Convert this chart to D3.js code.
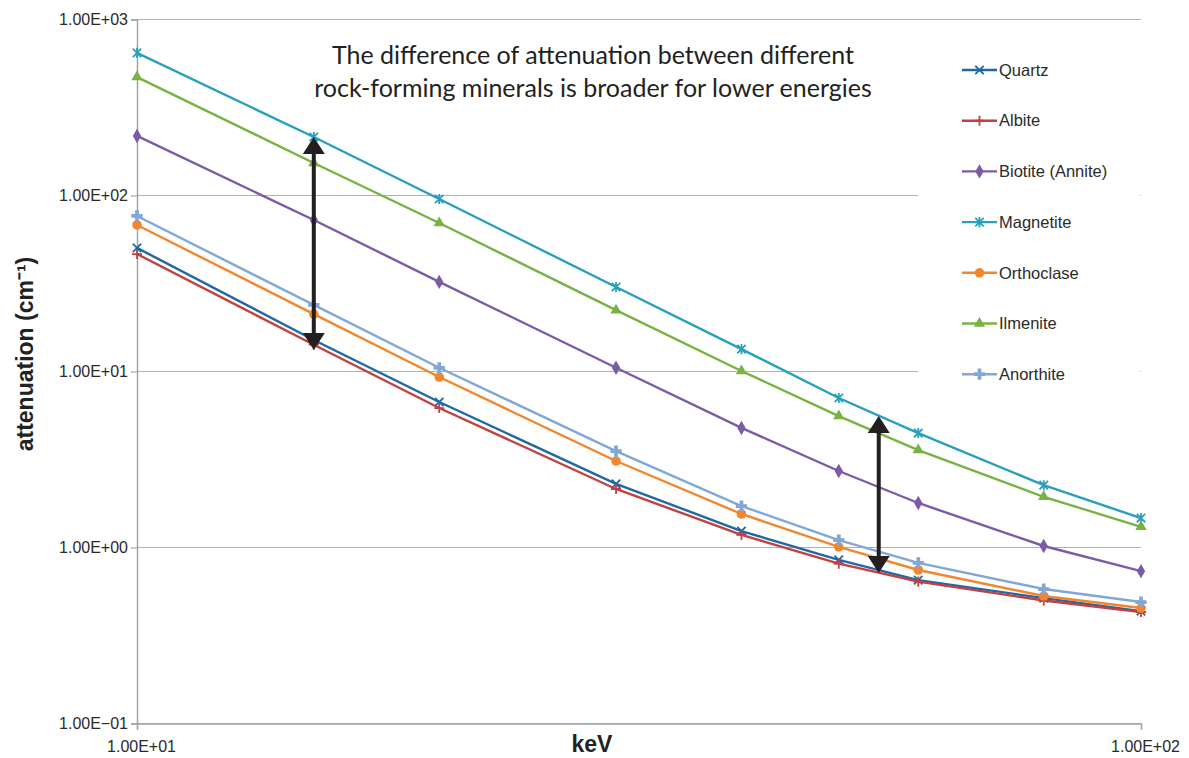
<!DOCTYPE html>
<html>
<head>
<meta charset="utf-8">
<script src="https://cdn.jsdelivr.net/npm/d3@7"></script>
<style>
  body { margin: 0; background: #fff; }
  svg { display: block; }
</style>
</head>
<body>
<div id="chart"></div>
<script>
// energies (keV) and attenuation values (cm-1)
const energies = [10, 15, 20, 30, 40, 50, 60, 80, 100];

const quartz     = [50.4, 15.1, 6.71, 2.30, 1.24, 0.85, 0.653, 0.516, 0.435];
const albite     = [46.5, 14.2, 6.2, 2.15, 1.18, 0.81, 0.64, 0.50, 0.43];
const biotite    = [218, 72.6, 32.3, 10.5, 4.78, 2.72, 1.79, 1.02, 0.734];
const magnetite  = [646, 215, 95.5, 30.2, 13.4, 7.07, 4.47, 2.26, 1.47];
const orthoclase = [68, 21.2, 9.3, 3.10, 1.55, 1.007, 0.745, 0.53, 0.453];
const ilmenite   = [471, 153, 69.8, 22.3, 10.07, 5.58, 3.58, 1.94, 1.31];
const anorthite  = [76.5, 23.9, 10.5, 3.53, 1.72, 1.10, 0.817, 0.581, 0.49];

const seriesNames = ["Quartz", "Albite", "Biotite (Annite)", "Magnetite", "Orthoclase", "Ilmenite", "Anorthite"];

const yTickValues = [0.1, 1, 10, 100, 1000];
const yTickLabels = ["1.00E\u221201", "1.00E+00", "1.00E+01", "1.00E+02", "1.00E+03"];
const xTickValues = [10, 100];
const xTickLabels = ["1.00E+01", "1.00E+02"];

// double arrows: energy, upper value, lower value
const arrowKeV   = [15, 54.8];
const arrowTop   = [215, 5.58];
const arrowBot   = [13.25, 0.716];

const noteLines = ["The difference of attenuation between different",
                   "rock-forming minerals is broader for lower energies"];

// set the dimensions and margins of the graph
let margin = {top: 19.5, right: 48, bottom: 34.5, left: 137},
    width = 1189 - margin.left - margin.right,
    height = 758 - margin.top - margin.bottom;

const svg = d3.select("#chart")
    .append("svg")
    .attr("width", 1189)
    .attr("height", 758);

const g = svg.append("g")
    .attr("transform", "translate(" + margin.left + "," + margin.top + ")");

const x = d3.scaleLog().domain([10, 100]).range([0, width]);
const y = d3.scaleLog().domain([0.1, 1000]).range([height, 0]);

const gridColor = "#aab4bd";

// horizontal grid lines
g.append("g")
    .selectAll("line")
    .data(yTickValues)
    .join("line")
    .attr("x1", 0)
    .attr("x2", width)
    .attr("y1", d => y(d))
    .attr("y2", d => y(d))
    .attr("stroke", gridColor)
    .attr("stroke-width", 1.2);

// y axis
const yAxis = g.append("g")
    .call(d3.axisLeft(y).tickValues(yTickValues)
        .tickFormat((d, i) => yTickLabels[i]).tickSize(6).tickPadding(3));
yAxis.select(".domain").attr("stroke", "#9ba6b0").attr("stroke-width", 1.5);
yAxis.selectAll(".tick line").attr("stroke", "#9ba6b0").attr("stroke-width", 1.2);
yAxis.selectAll("text")
    .attr("font-family", "'Liberation Sans', Arial, sans-serif")
    .attr("font-size", 16)
    .attr("fill", "#2a2a2a");

// x axis
const xAxis = g.append("g")
    .attr("transform", "translate(0," + height + ")")
    .call(d3.axisBottom(x).tickValues(xTickValues)
        .tickFormat((d, i) => xTickLabels[i]).tickSize(6).tickPadding(11));
xAxis.select(".domain").attr("stroke", "#9ba6b0").attr("stroke-width", 1.5);
xAxis.selectAll(".tick line").attr("stroke", "#9ba6b0").attr("stroke-width", 1.2);
xAxis.selectAll("text")
    .attr("font-family", "'Liberation Sans', Arial, sans-serif")
    .attr("font-size", 16)
    .attr("fill", "#2a2a2a")
    .attr("dx", 4);

// series
const seriesValues = [quartz, albite, biotite, magnetite, orthoclase, ilmenite, anorthite];
const colors = ["#1f68a6", "#c2403f", "#7c5ba6", "#26a0bd", "#f2862e", "#78b242", "#80a7d6"];
const markers = ["x", "plus", "diamond", "star", "circle", "triangle", "boldplus"];

function markerPath(type, s) {
    let p = d3.path();
    if (type === "x") {
        p.moveTo(-s, -s); p.lineTo(s, s); p.moveTo(-s, s); p.lineTo(s, -s);
    } else if (type === "plus") {
        p.moveTo(-s * 1.2, 0); p.lineTo(s * 1.2, 0); p.moveTo(0, -s * 1.2); p.lineTo(0, s * 1.2);
    } else if (type === "star") {
        p.moveTo(-s, -s); p.lineTo(s, s); p.moveTo(-s, s); p.lineTo(s, -s);
        p.moveTo(0, -s * 1.2); p.lineTo(0, s * 1.2);
    }
    return p.toString();
}

const line = d3.line()
    .x(d => x(d[0]))
    .y(d => y(d[1]));

seriesValues.forEach((vals, si) => {
    const pts = energies.map((e, i) => [e, vals[i]]);
    const sg = g.append("g");
    sg.append("path")
        .datum(pts)
        .attr("fill", "none")
        .attr("stroke", colors[si])
        .attr("stroke-width", 2.4)
        .attr("d", line);
    drawMarkers(sg, pts, markers[si], colors[si]);
});

function drawMarkers(sel, pts, type, color) {
    const m = sel.selectAll("g.m")
        .data(pts)
        .join("g")
        .attr("transform", d => "translate(" + x(d[0]) + "," + y(d[1]) + ")");
    appendMarker(m, type, color);
}

function appendMarker(m, type, color) {
    if (type === "diamond") {
        m.append("path").attr("d", d3.symbol(d3.symbolDiamond, 60)()).attr("fill", color);
    } else if (type === "circle") {
        m.append("circle").attr("r", 4.8).attr("fill", color);
    } else if (type === "triangle") {
        m.append("path").attr("d", d3.symbol(d3.symbolTriangle, 55)()).attr("fill", color);
    } else if (type === "boldplus") {
        m.append("path").attr("d", d3.symbol(d3.symbolCross, 70)()).attr("fill", color);
    } else {
        m.append("path").attr("d", markerPath(type, 4.2))
            .attr("stroke", color).attr("stroke-width", 1.8).attr("fill", "none");
    }
}

// legend
const legend = svg.append("g");
legend.append("rect")
    .attr("x", 918).attr("y", 38).attr("width", 222).attr("height", 360)
    .attr("fill", "#fff");
const legendTop = 70, legendStep = 50.7;
seriesNames.forEach((name, i) => {
    const ly = legendTop + i * legendStep;
    const lg = legend.append("g");
    lg.append("line")
        .attr("x1", 962).attr("x2", 997).attr("y1", ly).attr("y2", ly)
        .attr("stroke", colors[i]).attr("stroke-width", 2.4);
    const mg = lg.append("g").attr("transform", "translate(979.5," + ly + ")");
    appendMarker(mg, markers[i], colors[i]);
    lg.append("text")
        .attr("x", 999).attr("y", ly)
        .attr("dy", "0.35em")
        .attr("font-family", "'Liberation Sans', Arial, sans-serif")
        .attr("font-size", 16.5)
        .attr("fill", "#2a2a2a")
        .text(name);
});

// arrows
function drawArrow(xk, v1, v2) {
    const ax = x(xk), ay1 = y(v1), ay2 = y(v2);
    const hl = 17, hw = 11;
    g.append("line")
        .attr("x1", ax).attr("x2", ax)
        .attr("y1", ay1 + hl - 1).attr("y2", ay2 - hl + 1)
        .attr("stroke", "#231f20").attr("stroke-width", 4);
    g.append("path")
        .attr("d", "M" + ax + "," + ay1 + "L" + (ax - hw) + "," + (ay1 + hl) + "L" + (ax + hw) + "," + (ay1 + hl) + "Z")
        .attr("fill", "#231f20");
    g.append("path")
        .attr("d", "M" + ax + "," + ay2 + "L" + (ax - hw) + "," + (ay2 - hl) + "L" + (ax + hw) + "," + (ay2 - hl) + "Z")
        .attr("fill", "#231f20");
}
arrowKeV.forEach((k, i) => drawArrow(k, arrowTop[i], arrowBot[i]));

// annotation
noteLines.forEach((t, i) => {
    svg.append("text")
        .attr("x", 593)
        .attr("y", 64 + i * 33)
        .attr("text-anchor", "middle")
        .attr("font-family", "Lato, 'Open Sans', sans-serif")
        .attr("font-size", 25)
        .attr("fill", "#231f20")
        .text(t);
});

// axis titles
svg.append("text")
    .attr("transform", "translate(33,354) rotate(-90)")
    .attr("text-anchor", "middle")
    .attr("font-family", "'Liberation Sans', Arial, sans-serif")
    .attr("font-weight", "bold")
    .attr("font-size", 23)
    .attr("fill", "#222")
    .text("attenuation (cm\u207B\u00B9)");

svg.append("text")
    .attr("x", 592)
    .attr("y", 752)
    .attr("text-anchor", "middle")
    .attr("font-family", "'Liberation Sans', Arial, sans-serif")
    .attr("font-weight", "bold")
    .attr("font-size", 23)
    .attr("fill", "#222")
    .text("keV");
</script>
</body>
</html>
